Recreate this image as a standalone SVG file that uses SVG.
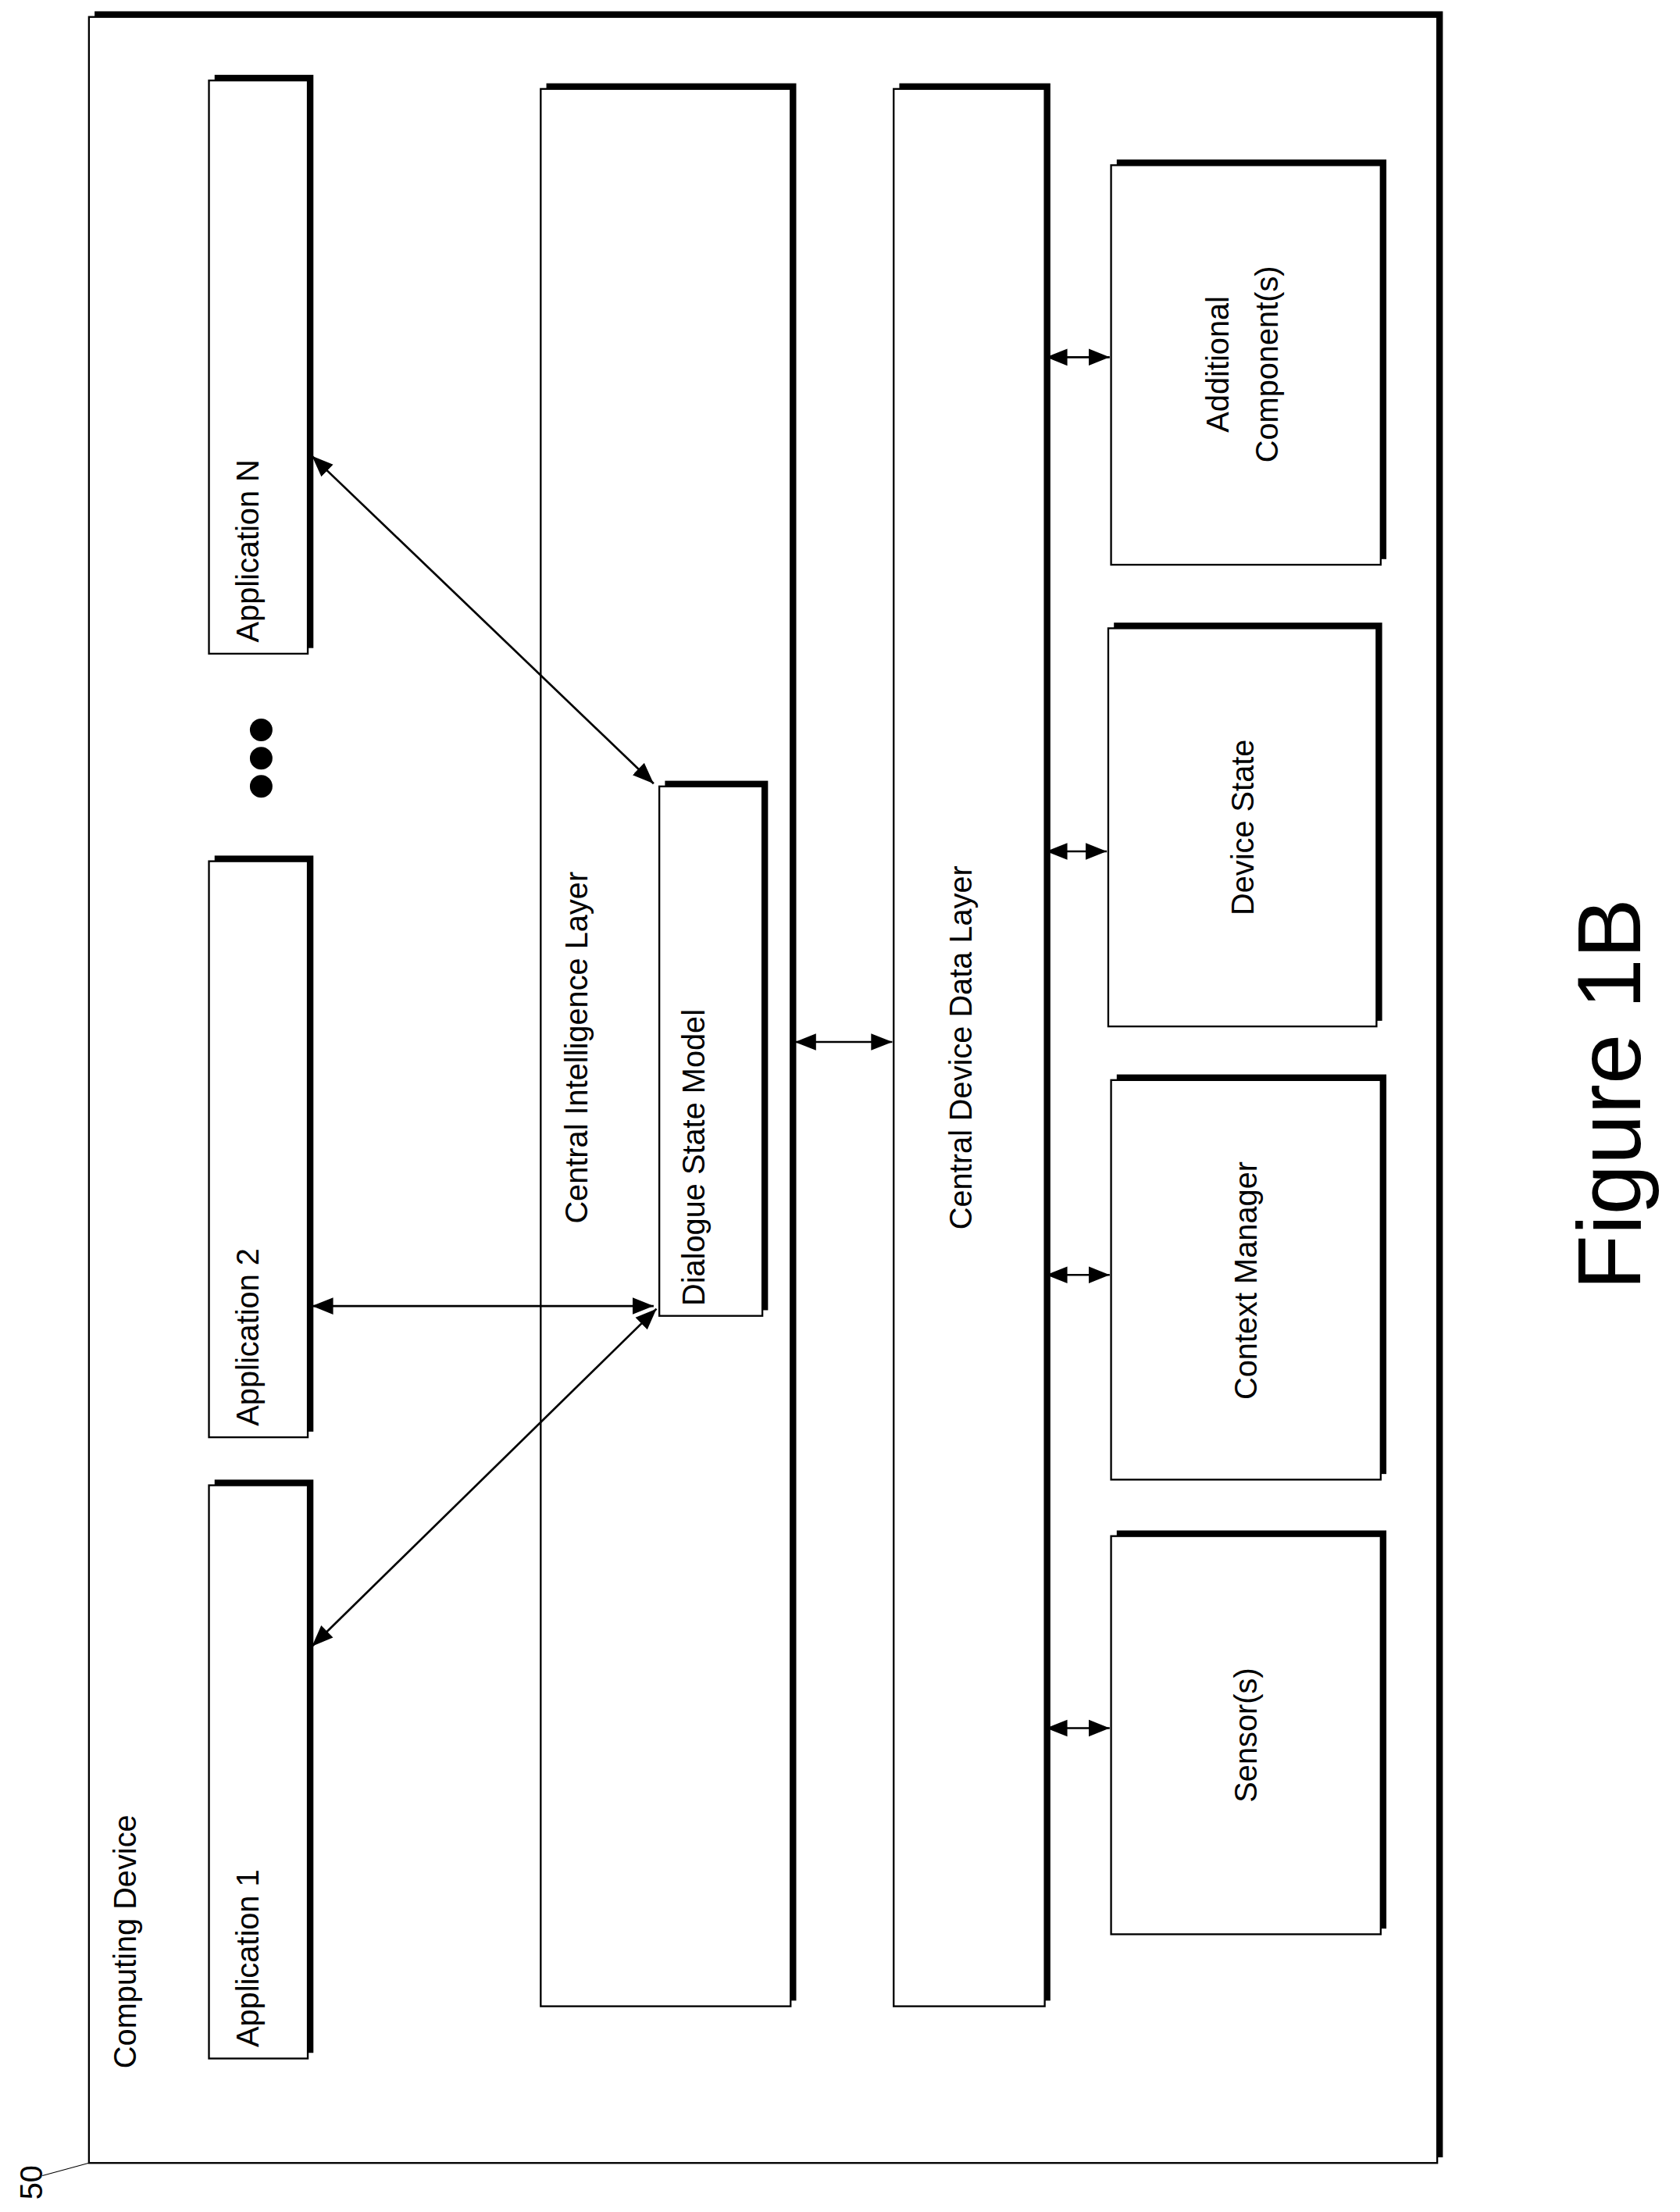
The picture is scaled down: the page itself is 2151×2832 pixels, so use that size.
<svg xmlns="http://www.w3.org/2000/svg" width="2151" height="2832" viewBox="0 0 2151 2832">
<style>
.sh{fill:#000}
.bx{fill:#fff;stroke:#000;stroke-width:1.3}
.t{font-family:"Liberation Sans",Arial,sans-serif;fill:#000;font-size:22px}
.c{stroke:#000;stroke-width:1.5;fill:none;marker-start:url(#a);marker-end:url(#a)}
</style>
<defs>
<marker id="a" viewBox="0 0 10 10" refX="10" refY="5" markerWidth="15" markerHeight="15" markerUnits="userSpaceOnUse" orient="auto-start-reverse"><path d="M0,1 L10,5 L0,9 z" fill="#000"/></marker>
</defs>
<rect width="2151" height="2832" fill="#fff"/>
<g transform="scale(1.8076)">
<g id="computing-device">
<rect class="sh" x="67" y="8" width="955" height="1520"/>
<rect class="bx" x="63" y="12" width="955" height="1520"/>
<text class="t" transform="translate(96,1465) rotate(-90)">Computing Device</text>
<line x1="30" y1="1541" x2="63" y2="1532" stroke="#000" stroke-width="0.6"/>
<text class="t" transform="translate(30,1558) rotate(-90)">50</text>
</g>
<g id="app-n">
<rect class="sh" x="152" y="53" width="70" height="406"/>
<rect class="bx" x="148" y="57" width="70" height="406"/>
<text class="t" transform="translate(183,455) rotate(-90)">Application N</text>
</g>
<g id="app-2">
<rect class="sh" x="152" y="606" width="70" height="408"/>
<rect class="bx" x="148" y="610" width="70" height="408"/>
<text class="t" transform="translate(183,1010) rotate(-90)">Application 2</text>
</g>
<g id="app-1">
<rect class="sh" x="152" y="1048" width="70" height="406"/>
<rect class="bx" x="148" y="1052" width="70" height="406"/>
<text class="t" transform="translate(183,1450) rotate(-90)">Application 1</text>
</g>
<g id="dots">
<circle cx="185" cy="517" r="8"/><circle cx="185" cy="537" r="8"/><circle cx="185" cy="557" r="8"/>
</g>
<g id="central-intelligence-layer">
<rect class="sh" x="387" y="59" width="177" height="1358"/>
<rect class="bx" x="383" y="63" width="177" height="1358"/>
<text class="t" text-anchor="middle" transform="translate(416,742) rotate(-90)">Central Intelligence Layer</text>
</g>
<g id="dialogue-state-model">
<rect class="sh" x="471" y="553" width="73" height="375"/>
<rect class="bx" x="467" y="557" width="73" height="375"/>
<text class="t" transform="translate(499,925) rotate(-90)">Dialogue State Model</text>
</g>
<g id="central-device-data-layer">
<rect class="sh" x="637" y="59" width="107" height="1358"/>
<rect class="bx" x="633" y="63" width="107" height="1358"/>
<text class="t" text-anchor="middle" transform="translate(688,742) rotate(-90)">Central Device Data Layer</text>
</g>
<g id="additional-components">
<rect class="sh" x="791" y="113" width="191" height="283"/>
<rect class="bx" x="787" y="117" width="191" height="283"/>
<text class="t" text-anchor="middle" transform="translate(870,258) rotate(-90)">Additional</text>
<text class="t" text-anchor="middle" transform="translate(905,258) rotate(-90)">Component(s)</text>
</g>
<g id="device-state">
<rect class="sh" x="789" y="441" width="190" height="282"/>
<rect class="bx" x="785" y="445" width="190" height="282"/>
<text class="t" text-anchor="middle" transform="translate(888,586) rotate(-90)">Device State</text>
</g>
<g id="context-manager">
<rect class="sh" x="791" y="761" width="191" height="283"/>
<rect class="bx" x="787" y="765" width="191" height="283"/>
<text class="t" text-anchor="middle" transform="translate(890,907) rotate(-90)">Context Manager</text>
</g>
<g id="sensors">
<rect class="sh" x="791" y="1084" width="191" height="282"/>
<rect class="bx" x="787" y="1088" width="191" height="282"/>
<text class="t" text-anchor="middle" transform="translate(890,1229) rotate(-90)">Sensor(s)</text>
</g>
<g id="connectors">
<line class="c" x1="563" y1="738" x2="632" y2="738"/>
<line class="c" x1="741" y1="253" x2="786" y2="253"/>
<line class="c" x1="741" y1="603" x2="784" y2="603"/>
<line class="c" x1="741" y1="903" x2="786" y2="903"/>
<line class="c" x1="741" y1="1224" x2="786" y2="1224"/>
<line class="c" x1="221" y1="323" x2="463" y2="555"/>
<line class="c" x1="221" y1="925" x2="463" y2="925"/>
<line class="c" x1="221" y1="1166" x2="465" y2="927"/>
</g>
<text class="t" style="font-size:64px" text-anchor="middle" transform="translate(1162,775) rotate(-90)">Figure 1B</text>
</g>
</svg>
